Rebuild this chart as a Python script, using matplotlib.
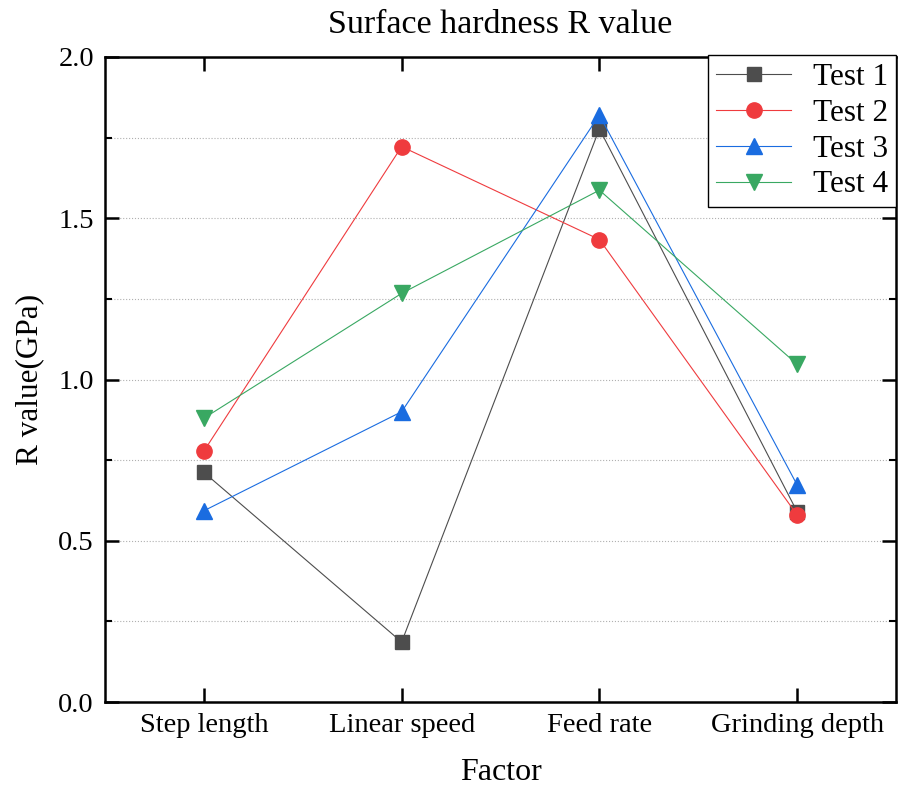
import matplotlib
matplotlib.use("Agg")
import matplotlib.pyplot as plt
from matplotlib.ticker import MultipleLocator, FormatStrFormatter

categories = ["Step length", "Linear speed", "Feed rate", "Grinding depth"]
test1 = [0.712, 0.186, 1.777, 0.590]
test2 = [0.778, 1.722, 1.434, 0.580]
test3 = [0.593, 0.900, 1.820, 0.673]
test4 = [0.880, 1.267, 1.587, 1.047]
series_names = ["Test 1", "Test 2", "Test 3", "Test 4"]

plt.rcParams['font.family'] = ['Liberation Serif', 'DejaVu Serif']

fig = plt.figure(figsize=(8.99, 7.88), dpi=100)
ax = fig.add_axes([0.1168, 0.1091, 0.8799, 0.8186])

styles = [
    dict(color="#4d4d4d", marker="s", ms=10),
    dict(color="#ef3b3e", marker="o", ms=11),
    dict(color="#1a6ce0", marker="^", ms=12),
    dict(color="#39a862", marker="v", ms=12),
]
x = list(range(len(categories)))
for data, name, st in zip([test1, test2, test3, test4], series_names, styles):
    ax.plot(x, data, color=st["color"], lw=0.8, marker=st["marker"],
            markersize=st["ms"], markerfacecolor=st["color"],
            markeredgecolor=st["color"], label=name, zorder=3)

ax.set_xlim(-0.5, 3.5)
ax.set_ylim(0, 2.0)
ax.set_xticks(x)
ax.set_xticklabels(categories, fontsize=20.5)
ax.yaxis.set_major_locator(MultipleLocator(0.5))
ax.yaxis.set_minor_locator(MultipleLocator(0.25))
ax.yaxis.set_major_formatter(FormatStrFormatter('%.1f'))
ax.tick_params(axis='y', labelsize=20.5)
ax.tick_params(which='major', direction='in', length=10, width=1.8,
               top=True, right=True, pad=8)
ax.tick_params(which='minor', direction='in', length=5, width=1.5,
               right=True)
ax.grid(True, axis='y', which='both', linestyle=':', color='#b0b0b0', lw=0.8)
for s in ax.spines.values():
    s.set_linewidth(1.8)

ax.set_title("Surface hardness R value", fontsize=24.5, pad=17)
ax.set_xlabel("Factor", fontsize=23, labelpad=14)
ax.set_ylabel("R value(GPa)", fontsize=22.5, labelpad=10)

leg = ax.legend(loc='upper right', fontsize=22.5, frameon=True, fancybox=False,
                edgecolor='black', framealpha=1, borderaxespad=0.0,
                handlelength=2.4, handletextpad=0.7, borderpad=0.25,
                labelspacing=0.22, bbox_to_anchor=(1.0, 1.003))
leg.get_frame().set_linewidth(1.0)

fig.savefig("out.png", dpi=100)
